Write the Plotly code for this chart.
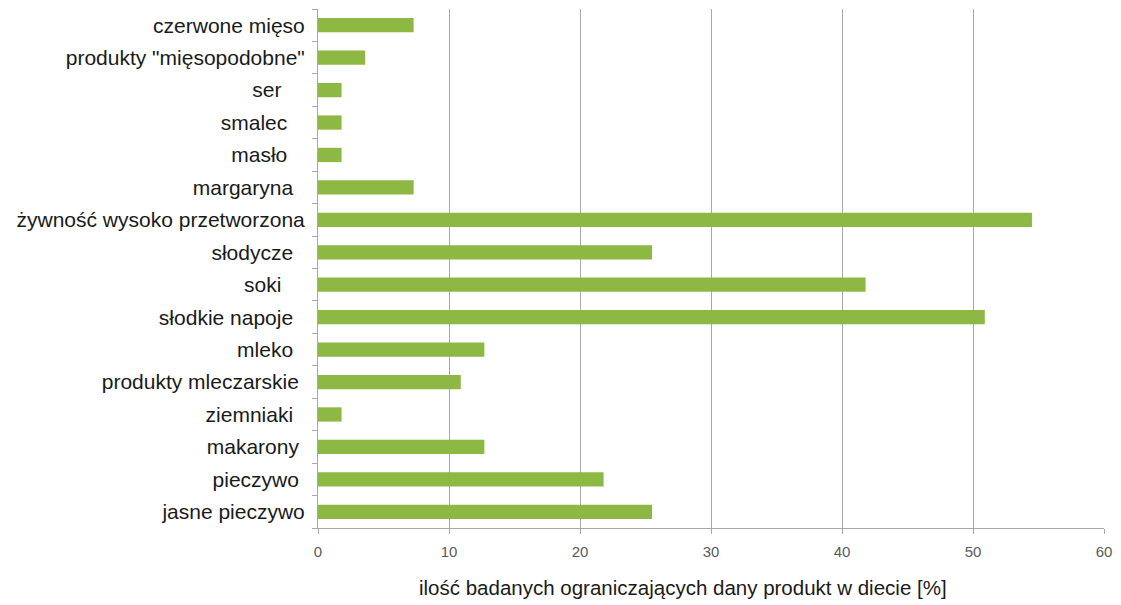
import plotly.graph_objects as go

# Produkty ograniczane w diecie (kolejność od góry wykresu);
# etykiety zachowują końcowe spacje z arkusza źródłowego
categories = [
    "czerwone mięso",
    "produkty \"mięsopodobne\"",
    "ser    ",
    "smalec   ",
    "masło   ",
    "margaryna  ",
    "żywność wysoko przetworzona",
    "słodycze  ",
    "soki    ",
    "słodkie napoje  ",
    "mleko  ",
    "produkty mleczarskie ",
    "ziemniaki  ",
    "makarony ",
    "pieczywo ",
    "jasne pieczywo",
]

# Odsetek badanych ograniczających dany produkt [%]
values = [7.3, 3.6, 1.8, 1.8, 1.8, 7.3, 54.5, 25.5, 41.8, 50.9,
          12.7, 10.9, 1.8, 12.7, 21.8, 25.5]

x_ticks = [0, 10, 20, 30, 40, 50, 60]

x_title = "ilość badanych ograniczających dany produkt w diecie [%]"

BAR_COLOR = "#8db844"
GRID_COLOR = "#a8a8a8"
FONT = "Liberation Sans, Arial, sans-serif"

# SVG usuwa zwykłe spacje na końcu tekstu, więc zamieniamy je na twarde
tick_text = [c.replace(" ", "\u00a0") for c in categories]

fig = go.Figure(
    go.Bar(
        x=values,
        y=categories,
        orientation="h",
        marker=dict(color=BAR_COLOR, line=dict(width=0)),
        width=0.44,
        hoverinfo="x+y",
    )
)

fig.update_layout(
    width=1121,
    height=605,
    margin=dict(l=318, r=15, t=9, b=77),
    paper_bgcolor="white",
    plot_bgcolor="white",
    showlegend=False,
    font=dict(family=FONT, color="#1a1a1a"),
)

fig.update_xaxes(
    range=[0, 60],
    tickvals=x_ticks,
    ticktext=[str(v) for v in x_ticks],
    showgrid=True,
    gridcolor=GRID_COLOR,
    gridwidth=1,
    zeroline=False,
    showline=True,
    linecolor=GRID_COLOR,
    linewidth=1,
    ticks="outside",
    ticklen=5,
    tickcolor=GRID_COLOR,
    tickfont=dict(size=15, color="#5a5a5a"),
    ticklabelstandoff=5,
)

fig.update_yaxes(
    categoryorder="array",
    categoryarray=categories,
    tickvals=categories,
    ticktext=tick_text,
    autorange="reversed",
    showgrid=False,
    zeroline=False,
    showline=True,
    linecolor=GRID_COLOR,
    linewidth=1,
    ticks="outside",
    tickson="boundaries",
    ticklen=5,
    tickcolor=GRID_COLOR,
    tickfont=dict(size=21, color="#1a1a1a"),
    ticklabelstandoff=8,
)

# Podpis osi X, lekko przesunięty w lewo względem środka obszaru wykresu
fig.add_annotation(
    text=x_title,
    xref="paper",
    yref="paper",
    x=0.4645,
    y=-0.1137,
    xanchor="center",
    yanchor="middle",
    showarrow=False,
    font=dict(size=20.5, color="#1a1a1a", family=FONT),
)

fig.write_html("out.html")
